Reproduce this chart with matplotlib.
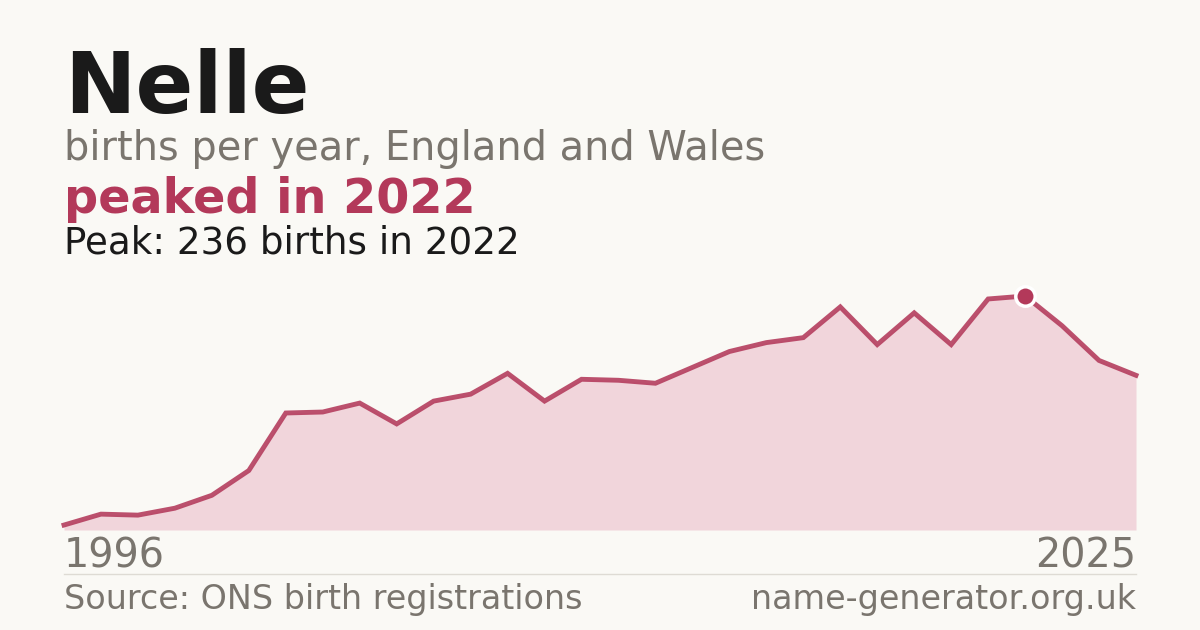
import matplotlib
matplotlib.use("Agg")
import matplotlib.pyplot as plt

years = list(range(1996, 2026))
births = [5, 16, 15, 22, 35, 60, 118, 119, 128, 107, 130, 137, 158, 130, 152,
          151, 148, 164, 180, 189, 194, 225, 187, 219, 187, 233, 236, 206, 171, 156]
name = "Nelle"
subtitle = "births per year, England and Wales"
headline = "peaked in 2022"
peak_note = "Peak: 236 births in 2022"
source = "Source: ONS birth registrations"
site = "name-generator.org.uk"

BG = "#faf9f5"
ACCENT = "#b3395a"
FILL = "#f1d5db"
GREY = "#7a756e"
DARK = "#1a1a1a"

W, H = 1200, 630
fig = plt.figure(figsize=(W / 100, H / 100), dpi=100, facecolor=BG)
plt.rcParams['font.family'] = ['DejaVu Sans']

def fy(py):
    return (H - py) / H

def fx(px):
    return px / W

ax = fig.add_axes([fx(64), fy(530), fx(1136) - fx(64), fy(296) - fy(530)])
ax.set_facecolor(BG)
ax.patch.set_alpha(0)
ax.fill_between(years, births, 0, color=FILL, linewidth=0)
ax.plot(years, births, color=ACCENT, linewidth=3.5, alpha=0.88,
        solid_joinstyle='miter', clip_on=False)
pk = births.index(max(births))
ax.plot([years[pk]], [births[pk]], 'o', markersize=14, color=ACCENT,
        markeredgecolor='white', markeredgewidth=2.5, clip_on=False, zorder=5)
ax.set_xlim(years[0], years[-1])
ax.set_ylim(0, max(births))
ax.axis('off')

fig.text(fx(64), fy(113), name, fontsize=61.5, fontweight='bold', color=DARK, va='baseline')
fig.text(fx(64), fy(160), subtitle, fontsize=28.7, color=GREY, va='baseline')
fig.text(fx(64), fy(213), headline, fontsize=34.4, fontweight='bold', color=ACCENT, va='baseline')
fig.text(fx(64), fy(253), peak_note, fontsize=26.8, color=DARK, va='baseline')

fig.text(fx(64), fy(568), str(years[0]), fontsize=28.6, color=GREY, va='baseline')
fig.text(fx(1136), fy(568), str(years[-1]), fontsize=28.6, color=GREY, va='baseline', ha='right')

fig.add_artist(plt.Line2D([fx(64), fx(1136)], [fy(574), fy(574)], color='#dedbd4', linewidth=1))

fig.text(fx(64), fy(609), source, fontsize=24, color=GREY, va='baseline')
fig.text(fx(1136), fy(609), site, fontsize=24, color=GREY, va='baseline', ha='right')

fig.savefig("out.png", dpi=100, facecolor=BG)
